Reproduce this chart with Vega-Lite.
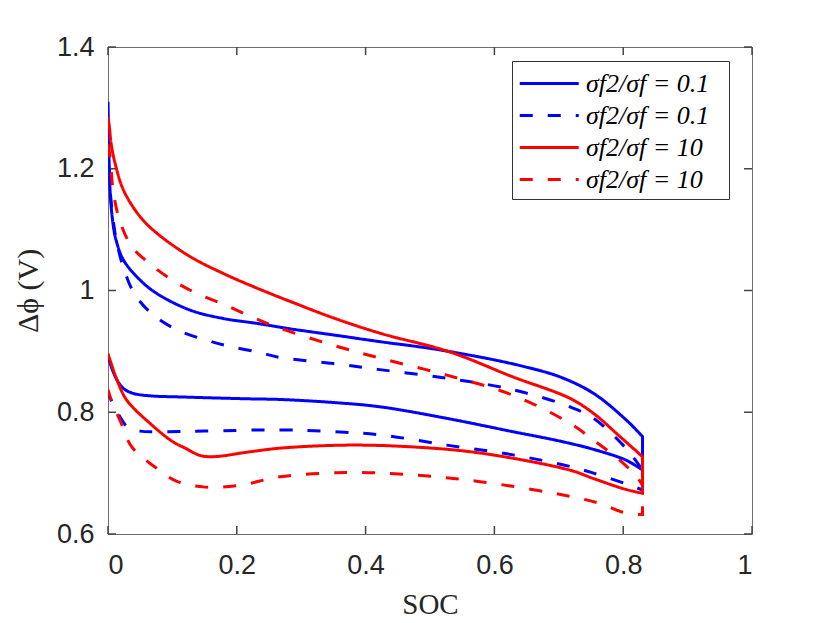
{
  "$schema": "https://vega.github.io/schema/vega-lite/v6.json",
  "width": 644,
  "height": 487,
  "autosize": {"type": "none"},
  "padding": {"left": 108, "top": 47, "right": 78, "bottom": 89},
  "background": "white",
  "config": {
    "view": {"stroke": "#6e6e6e", "strokeWidth": 1},
    "axis": {
      "domain": false,
      "ticks": false,
      "grid": false,
      "labelFont": "Liberation Sans",
      "labelFontSize": 27,
      "labelColor": "#262626",
      "titleColor": "#262626"
    }
  },
  "datasets": {
    "xticks": [{"v": 0}, {"v": 0.2}, {"v": 0.4}, {"v": 0.6}, {"v": 0.8}, {"v": 1}],
    "yticks": [{"v": 0.6}, {"v": 0.8}, {"v": 1}, {"v": 1.2}, {"v": 1.4}],
    "curves": [
      {"s": "b1", "i": 1, "x": 0, "y": 1.31},
      {"s": "b1", "i": 2, "x": 0.001, "y": 1.25},
      {"s": "b1", "i": 3, "x": 0.002, "y": 1.2},
      {"s": "b1", "i": 4, "x": 0.004, "y": 1.15},
      {"s": "b1", "i": 5, "x": 0.008, "y": 1.108},
      {"s": "b1", "i": 6, "x": 0.012, "y": 1.085},
      {"s": "b1", "i": 7, "x": 0.024, "y": 1.05},
      {"s": "b1", "i": 8, "x": 0.05, "y": 1.017},
      {"s": "b1", "i": 9, "x": 0.076, "y": 0.995},
      {"s": "b1", "i": 10, "x": 0.127, "y": 0.968},
      {"s": "b1", "i": 11, "x": 0.179, "y": 0.954},
      {"s": "b1", "i": 12, "x": 0.231, "y": 0.946},
      {"s": "b1", "i": 13, "x": 0.283, "y": 0.937},
      {"s": "b1", "i": 14, "x": 0.35, "y": 0.927},
      {"s": "b1", "i": 15, "x": 0.422, "y": 0.916},
      {"s": "b1", "i": 16, "x": 0.5, "y": 0.905},
      {"s": "b1", "i": 17, "x": 0.55, "y": 0.896},
      {"s": "b1", "i": 18, "x": 0.6, "y": 0.886},
      {"s": "b1", "i": 19, "x": 0.65, "y": 0.874},
      {"s": "b1", "i": 20, "x": 0.702, "y": 0.858},
      {"s": "b1", "i": 21, "x": 0.754, "y": 0.831},
      {"s": "b1", "i": 22, "x": 0.805, "y": 0.787},
      {"s": "b1", "i": 23, "x": 0.83, "y": 0.76},
      {"s": "b1", "i": 24, "x": 0.83, "y": 0.76},
      {"s": "b1", "i": 25, "x": 0.83, "y": 0.705},
      {"s": "b1", "i": 26, "x": 0.83, "y": 0.705},
      {"s": "b1", "i": 27, "x": 0.805, "y": 0.721},
      {"s": "b1", "i": 28, "x": 0.754, "y": 0.739},
      {"s": "b1", "i": 29, "x": 0.7, "y": 0.753},
      {"s": "b1", "i": 30, "x": 0.629, "y": 0.768},
      {"s": "b1", "i": 31, "x": 0.526, "y": 0.79},
      {"s": "b1", "i": 32, "x": 0.422, "y": 0.809},
      {"s": "b1", "i": 33, "x": 0.35, "y": 0.816},
      {"s": "b1", "i": 34, "x": 0.267, "y": 0.821},
      {"s": "b1", "i": 35, "x": 0.22, "y": 0.822},
      {"s": "b1", "i": 36, "x": 0.117, "y": 0.825},
      {"s": "b1", "i": 37, "x": 0.065, "y": 0.827},
      {"s": "b1", "i": 38, "x": 0.039, "y": 0.831},
      {"s": "b1", "i": 39, "x": 0.024, "y": 0.839},
      {"s": "b1", "i": 40, "x": 0.014, "y": 0.853},
      {"s": "b1", "i": 41, "x": 0.006, "y": 0.872},
      {"s": "b1", "i": 42, "x": 0, "y": 0.894},

      {"s": "b2", "i": 1, "x": 0, "y": 1.25},
      {"s": "b2", "i": 2, "x": 0.003, "y": 1.17},
      {"s": "b2", "i": 3, "x": 0.008, "y": 1.116},
      {"s": "b2", "i": 4, "x": 0.014, "y": 1.077},
      {"s": "b2", "i": 5, "x": 0.026, "y": 1.031},
      {"s": "b2", "i": 6, "x": 0.042, "y": 0.993},
      {"s": "b2", "i": 7, "x": 0.07, "y": 0.96},
      {"s": "b2", "i": 8, "x": 0.108, "y": 0.935},
      {"s": "b2", "i": 9, "x": 0.151, "y": 0.919},
      {"s": "b2", "i": 10, "x": 0.19, "y": 0.908},
      {"s": "b2", "i": 11, "x": 0.236, "y": 0.898},
      {"s": "b2", "i": 12, "x": 0.267, "y": 0.89},
      {"s": "b2", "i": 13, "x": 0.35, "y": 0.88},
      {"s": "b2", "i": 14, "x": 0.422, "y": 0.87},
      {"s": "b2", "i": 15, "x": 0.526, "y": 0.856},
      {"s": "b2", "i": 16, "x": 0.629, "y": 0.837},
      {"s": "b2", "i": 17, "x": 0.717, "y": 0.809},
      {"s": "b2", "i": 18, "x": 0.754, "y": 0.79},
      {"s": "b2", "i": 19, "x": 0.805, "y": 0.74},
      {"s": "b2", "i": 20, "x": 0.83, "y": 0.705},
      {"s": "b2", "i": 21, "x": 0.83, "y": 0.705},
      {"s": "b2", "i": 22, "x": 0.83, "y": 0.672},
      {"s": "b2", "i": 23, "x": 0.83, "y": 0.672},
      {"s": "b2", "i": 24, "x": 0.816, "y": 0.678},
      {"s": "b2", "i": 25, "x": 0.754, "y": 0.7},
      {"s": "b2", "i": 26, "x": 0.717, "y": 0.711},
      {"s": "b2", "i": 27, "x": 0.629, "y": 0.73},
      {"s": "b2", "i": 28, "x": 0.526, "y": 0.746},
      {"s": "b2", "i": 29, "x": 0.422, "y": 0.763},
      {"s": "b2", "i": 30, "x": 0.35, "y": 0.768},
      {"s": "b2", "i": 31, "x": 0.267, "y": 0.771},
      {"s": "b2", "i": 32, "x": 0.15, "y": 0.769},
      {"s": "b2", "i": 33, "x": 0.08, "y": 0.768},
      {"s": "b2", "i": 34, "x": 0.05, "y": 0.769},
      {"s": "b2", "i": 35, "x": 0.03, "y": 0.776},
      {"s": "b2", "i": 36, "x": 0.02, "y": 0.79},
      {"s": "b2", "i": 37, "x": 0.01, "y": 0.81},
      {"s": "b2", "i": 38, "x": 0, "y": 0.83},

      {"s": "r1", "i": 1, "x": 0, "y": 1.285},
      {"s": "r1", "i": 2, "x": 0.002, "y": 1.27},
      {"s": "r1", "i": 3, "x": 0.005, "y": 1.24},
      {"s": "r1", "i": 4, "x": 0.011, "y": 1.209},
      {"s": "r1", "i": 5, "x": 0.024, "y": 1.165},
      {"s": "r1", "i": 6, "x": 0.05, "y": 1.121},
      {"s": "r1", "i": 7, "x": 0.076, "y": 1.094},
      {"s": "r1", "i": 8, "x": 0.127, "y": 1.056},
      {"s": "r1", "i": 9, "x": 0.179, "y": 1.028},
      {"s": "r1", "i": 10, "x": 0.231, "y": 1.004},
      {"s": "r1", "i": 11, "x": 0.283, "y": 0.982},
      {"s": "r1", "i": 12, "x": 0.35, "y": 0.955},
      {"s": "r1", "i": 13, "x": 0.422, "y": 0.93},
      {"s": "r1", "i": 14, "x": 0.531, "y": 0.899},
      {"s": "r1", "i": 15, "x": 0.629, "y": 0.858},
      {"s": "r1", "i": 16, "x": 0.717, "y": 0.823},
      {"s": "r1", "i": 17, "x": 0.754, "y": 0.798},
      {"s": "r1", "i": 18, "x": 0.795, "y": 0.76},
      {"s": "r1", "i": 19, "x": 0.83, "y": 0.727},
      {"s": "r1", "i": 20, "x": 0.83, "y": 0.727},
      {"s": "r1", "i": 21, "x": 0.83, "y": 0.667},
      {"s": "r1", "i": 22, "x": 0.83, "y": 0.667},
      {"s": "r1", "i": 23, "x": 0.805, "y": 0.673},
      {"s": "r1", "i": 24, "x": 0.754, "y": 0.691},
      {"s": "r1", "i": 25, "x": 0.717, "y": 0.705},
      {"s": "r1", "i": 26, "x": 0.578, "y": 0.733},
      {"s": "r1", "i": 27, "x": 0.474, "y": 0.743},
      {"s": "r1", "i": 28, "x": 0.371, "y": 0.746},
      {"s": "r1", "i": 29, "x": 0.267, "y": 0.741},
      {"s": "r1", "i": 30, "x": 0.22, "y": 0.735},
      {"s": "r1", "i": 31, "x": 0.164, "y": 0.727},
      {"s": "r1", "i": 32, "x": 0.143, "y": 0.729},
      {"s": "r1", "i": 33, "x": 0.12, "y": 0.741},
      {"s": "r1", "i": 34, "x": 0.1, "y": 0.752},
      {"s": "r1", "i": 35, "x": 0.065, "y": 0.782},
      {"s": "r1", "i": 36, "x": 0.029, "y": 0.82},
      {"s": "r1", "i": 37, "x": 0.014, "y": 0.853},
      {"s": "r1", "i": 38, "x": 0, "y": 0.896},

      {"s": "r2", "i": 1, "x": 0, "y": 1.24},
      {"s": "r2", "i": 2, "x": 0.004, "y": 1.212},
      {"s": "r2", "i": 3, "x": 0.007, "y": 1.173},
      {"s": "r2", "i": 4, "x": 0.017, "y": 1.119},
      {"s": "r2", "i": 5, "x": 0.037, "y": 1.072},
      {"s": "r2", "i": 6, "x": 0.065, "y": 1.044},
      {"s": "r2", "i": 7, "x": 0.1, "y": 1.017},
      {"s": "r2", "i": 8, "x": 0.138, "y": 0.995},
      {"s": "r2", "i": 9, "x": 0.178, "y": 0.978},
      {"s": "r2", "i": 10, "x": 0.22, "y": 0.958},
      {"s": "r2", "i": 11, "x": 0.262, "y": 0.94},
      {"s": "r2", "i": 12, "x": 0.35, "y": 0.91},
      {"s": "r2", "i": 13, "x": 0.422, "y": 0.889},
      {"s": "r2", "i": 14, "x": 0.526, "y": 0.861},
      {"s": "r2", "i": 15, "x": 0.629, "y": 0.828},
      {"s": "r2", "i": 16, "x": 0.717, "y": 0.782},
      {"s": "r2", "i": 17, "x": 0.754, "y": 0.754},
      {"s": "r2", "i": 18, "x": 0.795, "y": 0.721},
      {"s": "r2", "i": 19, "x": 0.821, "y": 0.694},
      {"s": "r2", "i": 20, "x": 0.83, "y": 0.68},
      {"s": "r2", "i": 21, "x": 0.83, "y": 0.68},
      {"s": "r2", "i": 22, "x": 0.83, "y": 0.632},
      {"s": "r2", "i": 23, "x": 0.83, "y": 0.632},
      {"s": "r2", "i": 24, "x": 0.805, "y": 0.634},
      {"s": "r2", "i": 25, "x": 0.764, "y": 0.65},
      {"s": "r2", "i": 26, "x": 0.717, "y": 0.662},
      {"s": "r2", "i": 27, "x": 0.578, "y": 0.686},
      {"s": "r2", "i": 28, "x": 0.474, "y": 0.697},
      {"s": "r2", "i": 29, "x": 0.371, "y": 0.701},
      {"s": "r2", "i": 30, "x": 0.267, "y": 0.694},
      {"s": "r2", "i": 31, "x": 0.205, "y": 0.68},
      {"s": "r2", "i": 32, "x": 0.151, "y": 0.677},
      {"s": "r2", "i": 33, "x": 0.108, "y": 0.686},
      {"s": "r2", "i": 34, "x": 0.073, "y": 0.71},
      {"s": "r2", "i": 35, "x": 0.037, "y": 0.743},
      {"s": "r2", "i": 36, "x": 0.019, "y": 0.786},
      {"s": "r2", "i": 37, "x": 0.006, "y": 0.817},
      {"s": "r2", "i": 38, "x": 0, "y": 0.837}
    ]
  },
  "layer": [
    {
      "data": {"name": "xticks"},
      "mark": {"type": "tick", "orient": "vertical", "size": 8, "thickness": 1.5, "color": "#444444", "opacity": 1, "yOffset": -4},
      "encoding": {
        "x": {
          "field": "v",
          "type": "quantitative",
          "scale": {"domain": [0, 1], "nice": false, "zero": false},
          "axis": {
            "orient": "bottom",
            "values": [0, 0.2, 0.4, 0.6, 0.8, 1],
            "format": "~g",
            "labelPadding": 18,
            "title": "SOC",
            "titleFont": "Liberation Serif",
            "titleFontSize": 29,
            "titleFontWeight": "normal",
            "titleY": 79,
            "titleBaseline": "alphabetic"
          }
        },
        "y": {
          "datum": 0.6,
          "type": "quantitative",
          "scale": {"domain": [0.6, 1.4], "nice": false, "zero": false},
          "axis": {
            "orient": "left",
            "values": [0.6, 0.8, 1, 1.2, 1.4],
            "format": "~g",
            "labelPadding": 14,
            "title": "Δϕ (V)",
            "titleFont": "Liberation Serif",
            "titleFontSize": 30,
            "titleFontWeight": "normal",
            "titleX": -71,
            "titleBaseline": "alphabetic"
          }
        }
      }
    },
    {
      "data": {"name": "xticks"},
      "mark": {"type": "tick", "orient": "vertical", "size": 8, "thickness": 1.5, "color": "#444444", "opacity": 1, "yOffset": 4},
      "encoding": {
        "x": {"field": "v", "type": "quantitative", "axis": null},
        "y": {"datum": 1.4, "type": "quantitative", "axis": null}
      }
    },
    {
      "data": {"name": "yticks"},
      "mark": {"type": "tick", "orient": "horizontal", "size": 8, "thickness": 1.5, "color": "#444444", "opacity": 1, "xOffset": 4},
      "encoding": {
        "y": {"field": "v", "type": "quantitative", "axis": null},
        "x": {"datum": 0, "type": "quantitative", "axis": null}
      }
    },
    {
      "data": {"name": "yticks"},
      "mark": {"type": "tick", "orient": "horizontal", "size": 8, "thickness": 1.5, "color": "#444444", "opacity": 1, "xOffset": -4},
      "encoding": {
        "y": {"field": "v", "type": "quantitative", "axis": null},
        "x": {"datum": 1, "type": "quantitative", "axis": null}
      }
    },
    {
      "data": {"name": "curves"},
      "mark": {"type": "line", "strokeWidth": 3, "interpolate": "catmull-rom", "clip": true},
      "encoding": {
        "x": {"field": "x", "type": "quantitative", "axis": null},
        "y": {"field": "y", "type": "quantitative", "axis": null},
        "color": {
          "field": "s",
          "type": "nominal",
          "scale": {
            "domain": ["b1", "b2", "r1", "r2"],
            "range": ["#0000ff", "#0000ff", "#ff0000", "#ff0000"]
          },
          "legend": {
            "title": null,
            "orient": "none",
            "legendX": 404,
            "legendY": 14,
            "fillColor": "white",
            "strokeColor": "#333333",
            "padding": 6,
            "rowPadding": 2,
            "symbolType": "M-1,0H3",
            "symbolSize": 870,
            "symbolStrokeWidth": 3,
            "labelOffset": 35,
            "labelFont": "Liberation Serif",
            "labelFontStyle": "italic",
            "labelFontSize": 26,
            "labelColor": "black",
            "labelLimit": 300,
            "labelExpr": "indexof(['b1', 'b2'], datum.value) >= 0 ? 'σf2/σf  =  0.1' : 'σf2/σf  =  10'"
          }
        },
        "strokeDash": {
          "field": "s",
          "type": "nominal",
          "scale": {
            "domain": ["b1", "b2", "r1", "r2"],
            "range": [[1, 0], [13, 15], [1, 0], [13, 15]]
          },
          "legend": {
            "title": null,
            "orient": "none",
            "legendX": 404,
            "legendY": 14
          }
        },
        "order": {"field": "i", "type": "quantitative"}
      }
    }
  ],
  "resolve": {"axis": {"x": "independent", "y": "independent"}}
}
